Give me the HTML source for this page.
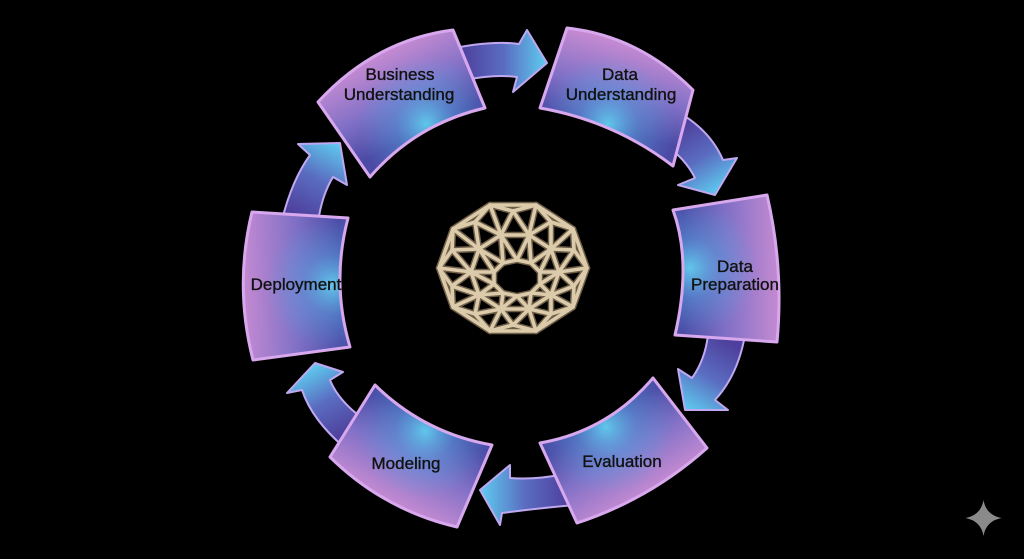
<!DOCTYPE html>
<html><head><meta charset="utf-8"><style>
html,body{margin:0;padding:0;background:#000;}
svg{display:block}
text{font-family:"Liberation Sans",Arial,sans-serif;font-size:17px;fill:#111;stroke:#111;stroke-width:0.35;text-anchor:middle}
</style></head><body>
<svg width="1024" height="559" viewBox="0 0 1024 559" xmlns="http://www.w3.org/2000/svg">
<defs>
  <linearGradient id="a1" gradientUnits="userSpaceOnUse" x1="460" y1="62" x2="547" y2="62"><stop offset="0" stop-color="#4e3f9c"/><stop offset="0.5" stop-color="#5a6cc0"/><stop offset="1" stop-color="#5ecdf0"/></linearGradient>
  <linearGradient id="a2" gradientUnits="userSpaceOnUse" x1="675" y1="128" x2="715" y2="195"><stop offset="0" stop-color="#4e3f9c"/><stop offset="0.5" stop-color="#5a6cc0"/><stop offset="1" stop-color="#5ecdf0"/></linearGradient>
  <linearGradient id="a3" gradientUnits="userSpaceOnUse" x1="728" y1="340" x2="685" y2="410"><stop offset="0" stop-color="#4e3f9c"/><stop offset="0.5" stop-color="#5a6cc0"/><stop offset="1" stop-color="#5ecdf0"/></linearGradient>
  <linearGradient id="a4" gradientUnits="userSpaceOnUse" x1="570" y1="490" x2="480" y2="490"><stop offset="0" stop-color="#4e3f9c"/><stop offset="0.5" stop-color="#5a6cc0"/><stop offset="1" stop-color="#5ecdf0"/></linearGradient>
  <linearGradient id="a5" gradientUnits="userSpaceOnUse" x1="352" y1="432" x2="315" y2="363"><stop offset="0" stop-color="#4e3f9c"/><stop offset="0.5" stop-color="#5a6cc0"/><stop offset="1" stop-color="#5ecdf0"/></linearGradient>
  <linearGradient id="a6" gradientUnits="userSpaceOnUse" x1="300" y1="218" x2="340" y2="143"><stop offset="0" stop-color="#4e3f9c"/><stop offset="0.5" stop-color="#5a6cc0"/><stop offset="1" stop-color="#5ecdf0"/></linearGradient>

  <linearGradient id="l1" gradientUnits="userSpaceOnUse" x1="422" y1="131" x2="382" y2="54"><stop offset="0" stop-color="#4b4aa4"/><stop offset="0.45" stop-color="#8070c6"/><stop offset="1" stop-color="#c48ad2"/></linearGradient>
  <linearGradient id="l2" gradientUnits="userSpaceOnUse" x1="610" y1="129" x2="632" y2="46"><stop offset="0" stop-color="#4b4aa4"/><stop offset="0.45" stop-color="#8070c6"/><stop offset="1" stop-color="#c48ad2"/></linearGradient>
  <linearGradient id="l3" gradientUnits="userSpaceOnUse" x1="683" y1="268" x2="778" y2="268"><stop offset="0" stop-color="#4b4aa4"/><stop offset="0.45" stop-color="#8070c6"/><stop offset="1" stop-color="#c48ad2"/></linearGradient>
  <linearGradient id="l4" gradientUnits="userSpaceOnUse" x1="602" y1="421" x2="646" y2="493"><stop offset="0" stop-color="#4b4aa4"/><stop offset="0.45" stop-color="#8070c6"/><stop offset="1" stop-color="#c48ad2"/></linearGradient>
  <linearGradient id="l5" gradientUnits="userSpaceOnUse" x1="428" y1="424" x2="388" y2="500"><stop offset="0" stop-color="#4b4aa4"/><stop offset="0.45" stop-color="#8070c6"/><stop offset="1" stop-color="#c48ad2"/></linearGradient>
  <linearGradient id="l6" gradientUnits="userSpaceOnUse" x1="340" y1="284" x2="243" y2="286"><stop offset="0" stop-color="#4b4aa4"/><stop offset="0.45" stop-color="#8070c6"/><stop offset="1" stop-color="#c48ad2"/></linearGradient>

  <radialGradient id="r1" gradientUnits="userSpaceOnUse" cx="426" cy="124" r="68"><stop offset="0" stop-color="#62d4f2" stop-opacity="0.9"/><stop offset="0.45" stop-color="#58a8e4" stop-opacity="0.45"/><stop offset="1" stop-color="#58a8e4" stop-opacity="0"/></radialGradient>
  <radialGradient id="r2" gradientUnits="userSpaceOnUse" cx="608" cy="124" r="68"><stop offset="0" stop-color="#62d4f2" stop-opacity="0.9"/><stop offset="0.45" stop-color="#58a8e4" stop-opacity="0.45"/><stop offset="1" stop-color="#58a8e4" stop-opacity="0"/></radialGradient>
  <radialGradient id="r3" gradientUnits="userSpaceOnUse" cx="690" cy="268" r="68"><stop offset="0" stop-color="#62d4f2" stop-opacity="0.9"/><stop offset="0.45" stop-color="#58a8e4" stop-opacity="0.45"/><stop offset="1" stop-color="#58a8e4" stop-opacity="0"/></radialGradient>
  <radialGradient id="r4" gradientUnits="userSpaceOnUse" cx="606" cy="427" r="68"><stop offset="0" stop-color="#62d4f2" stop-opacity="0.9"/><stop offset="0.45" stop-color="#58a8e4" stop-opacity="0.45"/><stop offset="1" stop-color="#58a8e4" stop-opacity="0"/></radialGradient>
  <radialGradient id="r5" gradientUnits="userSpaceOnUse" cx="425" cy="431" r="68"><stop offset="0" stop-color="#62d4f2" stop-opacity="0.9"/><stop offset="0.45" stop-color="#58a8e4" stop-opacity="0.45"/><stop offset="1" stop-color="#58a8e4" stop-opacity="0"/></radialGradient>
  <radialGradient id="r6" gradientUnits="userSpaceOnUse" cx="333" cy="285" r="68"><stop offset="0" stop-color="#62d4f2" stop-opacity="0.9"/><stop offset="0.45" stop-color="#58a8e4" stop-opacity="0.45"/><stop offset="1" stop-color="#58a8e4" stop-opacity="0"/></radialGradient>
</defs>

<rect width="1024" height="559" fill="#000"/>

<!-- arrows -->
<g stroke="#c0a8f0" stroke-width="2" stroke-linejoin="round">
  <path fill="url(#a1)" d="M445,50 Q490,40 519,44 L527,30 L547,63 L513,92 L517,77 Q495,74 465,80 Z"/>
  <path fill="url(#a2)" d="M678,112 Q710,130 723,160 L737,158 L715,195 L678,185 L695,178 Q685,158 665,145 Z"/>
  <path fill="url(#a3)" d="M745,335 Q738,375 715,400 L728,410 L685,410 L678,369 L692,378 Q705,360 708,335 Z"/>
  <path fill="url(#a4)" d="M565,474 Q535,480 510,478 L510,465 L480,490 L500,525 L502,513 Q540,508 575,505 Z"/>
  <path fill="url(#a5)" d="M345,448 Q312,420 302,390 L287,393 L315,363 L343,372 L330,380 Q338,400 362,418 Z"/>
  <path fill="url(#a6)" d="M282,220 Q292,180 310,155 L298,144 L340,143 L347,185 L333,177 Q322,195 318,222 Z"/>
</g>

<!-- boxes -->
<g stroke-linejoin="round">
  <path fill="url(#l1)" d="M318,102 Q375,40 453,30 L485,108 Q416,124 370,177 Z"/>
  <path fill="url(#r1)" d="M318,102 Q375,40 453,30 L485,108 Q416,124 370,177 Z"/>
  <path fill="none" stroke="#d8a8ee" stroke-width="3" d="M318,102 Q375,40 453,30 L485,108 Q416,124 370,177 Z"/>

  <path fill="url(#l2)" d="M567,28 Q639,36 693,90 L673,166 Q614,121 540,108 Z"/>
  <path fill="url(#r2)" d="M567,28 Q639,36 693,90 L673,166 Q614,121 540,108 Z"/>
  <path fill="none" stroke="#d8a8ee" stroke-width="3" d="M567,28 Q639,36 693,90 L673,166 Q614,121 540,108 Z"/>

  <path fill="url(#l3)" d="M673,210 L767,195 Q784,268 777,342 L675,335 Q692,262 673,210 Z"/>
  <path fill="url(#r3)" d="M673,210 L767,195 Q784,268 777,342 L675,335 Q692,262 673,210 Z"/>
  <path fill="none" stroke="#d8a8ee" stroke-width="3" d="M673,210 L767,195 Q784,268 777,342 L675,335 Q692,262 673,210 Z"/>

  <path fill="url(#l4)" d="M540,443 Q608,431 653,378 L707,448 Q650,499 577,523 Z"/>
  <path fill="url(#r4)" d="M540,443 Q608,431 653,378 L707,448 Q650,499 577,523 Z"/>
  <path fill="none" stroke="#d8a8ee" stroke-width="3" d="M540,443 Q608,431 653,378 L707,448 Q650,499 577,523 Z"/>

  <path fill="url(#l5)" d="M375,385 Q424,433 492,445 L457,527 Q384,510 330,457 Z"/>
  <path fill="url(#r5)" d="M375,385 Q424,433 492,445 L457,527 Q384,510 330,457 Z"/>
  <path fill="none" stroke="#d8a8ee" stroke-width="3" d="M375,385 Q424,433 492,445 L457,527 Q384,510 330,457 Z"/>

  <path fill="url(#l6)" d="M252,212 L348,218 Q331,283 350,347 L253,360 Q234,286 252,212 Z"/>
  <path fill="url(#r6)" d="M252,212 L348,218 Q331,283 350,347 L253,360 Q234,286 252,212 Z"/>
  <path fill="none" stroke="#d8a8ee" stroke-width="3" d="M252,212 L348,218 Q331,283 350,347 L253,360 Q234,286 252,212 Z"/>
</g>

<!-- labels -->
<text x="400" y="80">Business</text>
<text x="399" y="100">Understanding</text>
<text x="620" y="80">Data</text>
<text x="621" y="100">Understanding</text>
<text x="735" y="272">Data</text>
<text x="735" y="290">Preparation</text>
<text x="296" y="290">Deployment</text>
<text x="406" y="469">Modeling</text>
<text x="622" y="467">Evaluation</text>

<!-- central wireframe -->
<g fill="none" stroke-linejoin="round" stroke-linecap="round">
  <g stroke="#6e5e48" stroke-width="6.5">
    <path d="M490,205 L536,205 L573,229 L587,268 L573,307 L536,331 L490,331 L453,307 L439,268 L453,229 Z"/>
    <path d="M490,205 L513,211 L536,205 L551,222 L573,229 L574,250 L587,268 L574,286 L573,307 L551,314 L536,331 L513,325 L490,331 L475,314 L453,307 L452,286 L439,268 L452,250 L453,229 L475,222 Z"/>
    <path d="M501,235 L513,211 L529,235 L551,222 L551,249 L574,250 L559,272 L574,286 L551,295 L551,314 L529,309 L513,325 L501,309 L475,314 L479,295 L452,286 L471,272 L452,250 L479,249 L475,222 Z"/>
    <path d="M490,205 L501,235 M536,205 L529,235 M573,229 L551,249 M587,268 L559,272 M573,307 L551,295 M536,331 L529,309 M490,331 L501,309 M453,307 L479,295 M439,268 L471,272 M453,229 L479,249"/>
    <path d="M501,235 L529,235 L551,249 L559,272 L551,295 L529,309 L501,309 L479,295 L471,272 L479,249 Z"/>
    <path d="M501,235 L517,260 L529,235 L531,263 L551,249 L540,272 L559,272 L540,284 L551,295 L531,293 L529,309 L517,296 L501,309 L503,293 L479,295 L494,284 L471,272 L494,272 L479,249 L503,263 Z"/>
    <path d="M517,260 L531,263 L540,272 L540,284 L531,293 L517,296 L503,293 L494,284 L494,272 L503,263 Z"/>
  </g>
  <g stroke="#dccbaa" stroke-width="3.6">
    <path d="M490,205 L536,205 L573,229 L587,268 L573,307 L536,331 L490,331 L453,307 L439,268 L453,229 Z"/>
    <path d="M490,205 L513,211 L536,205 L551,222 L573,229 L574,250 L587,268 L574,286 L573,307 L551,314 L536,331 L513,325 L490,331 L475,314 L453,307 L452,286 L439,268 L452,250 L453,229 L475,222 Z"/>
    <path d="M501,235 L513,211 L529,235 L551,222 L551,249 L574,250 L559,272 L574,286 L551,295 L551,314 L529,309 L513,325 L501,309 L475,314 L479,295 L452,286 L471,272 L452,250 L479,249 L475,222 Z"/>
    <path d="M490,205 L501,235 M536,205 L529,235 M573,229 L551,249 M587,268 L559,272 M573,307 L551,295 M536,331 L529,309 M490,331 L501,309 M453,307 L479,295 M439,268 L471,272 M453,229 L479,249"/>
    <path d="M501,235 L529,235 L551,249 L559,272 L551,295 L529,309 L501,309 L479,295 L471,272 L479,249 Z"/>
    <path d="M501,235 L517,260 L529,235 L531,263 L551,249 L540,272 L559,272 L540,284 L551,295 L531,293 L529,309 L517,296 L501,309 L503,293 L479,295 L494,284 L471,272 L494,272 L479,249 L503,263 Z"/>
    <path d="M517,260 L531,263 L540,272 L540,284 L531,293 L517,296 L503,293 L494,284 L494,272 L503,263 Z"/>
  </g>
</g>

<!-- sparkle -->
<path fill="#8a8a8a" d="M983.5,500 Q986,515 1001.5,518 Q986,521 983.5,536 Q981,521 965.5,518 Q981,515 983.5,500 Z"/>
</svg>
</body></html>
